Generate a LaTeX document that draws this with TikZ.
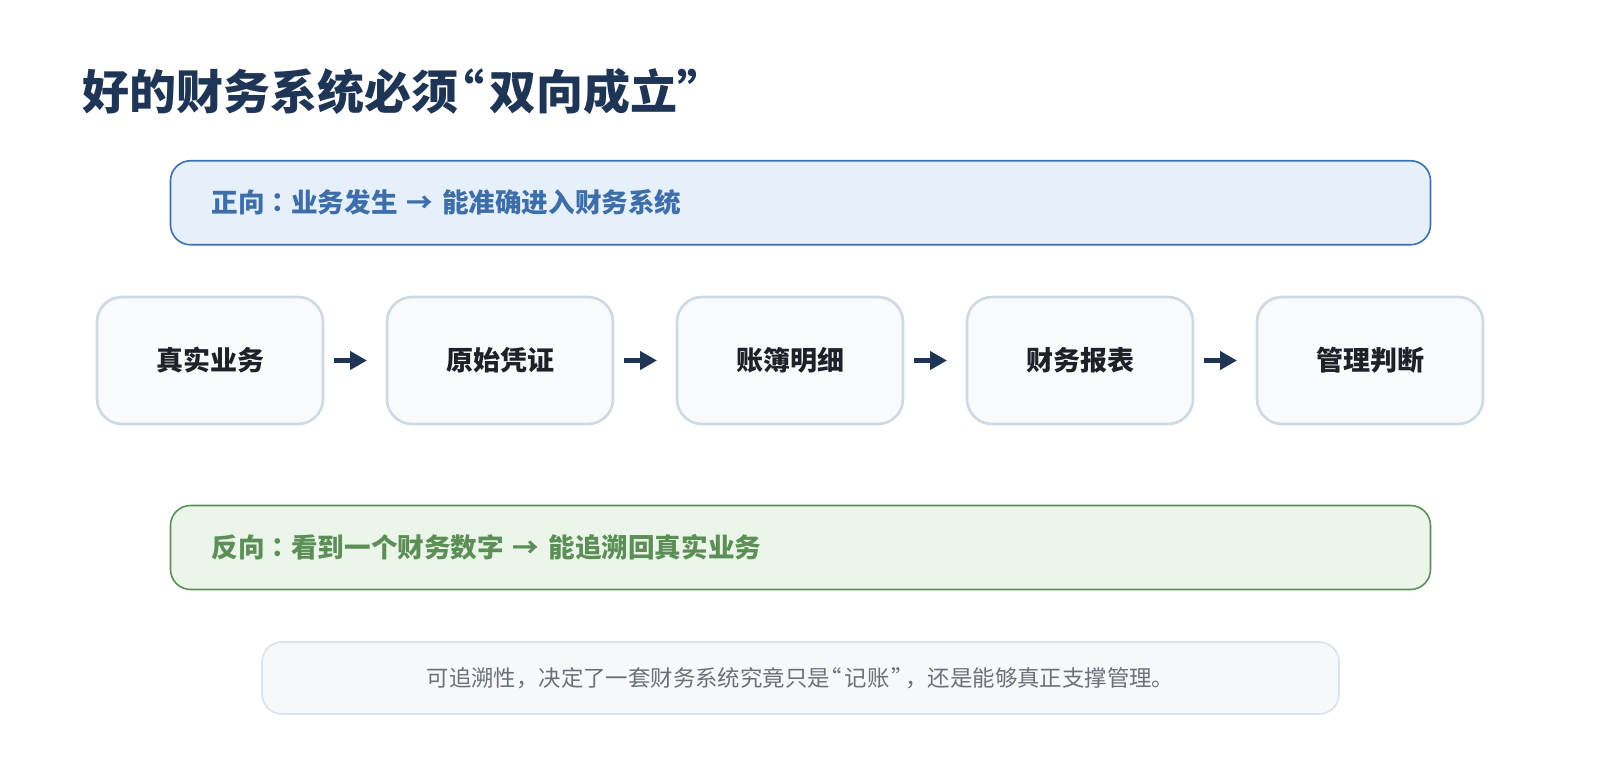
\documentclass[tikz,border=0pt]{standalone}
\usepackage{fontspec}
\setmainfont{Noto Sans CJK SC}
\newfontfamily\tcfont{Noto Sans CJK TC}
\newcommand{\mycolon}{{\tcfont ：}}
\newcommand{\myoq}{\kern-0.45em “\kern0.12em }
\newcommand{\mycq}{\kern0.08em ”\kern-0.38em }
\usetikzlibrary{arrows.meta}
\definecolor{navy}{HTML}{1F3556}
\definecolor{bluefill}{HTML}{E6F0FA}
\definecolor{blueline}{HTML}{3B6FAE}
\definecolor{bluetext}{HTML}{3D6EAA}
\definecolor{greenfill}{HTML}{ECF5EA}
\definecolor{greenline}{HTML}{5B9057}
\definecolor{greentext}{HTML}{5B8F55}
\definecolor{flowfill}{HTML}{F8FAFC}
\definecolor{flowline}{HTML}{CFD8E3}
\definecolor{flowtext}{HTML}{1E2228}
\definecolor{notefill}{HTML}{F7F8FA}
\definecolor{noteline}{HTML}{DCE2EA}
\definecolor{notetext}{HTML}{6B7079}
\tikzset{
  titletext/.style={anchor=west, inner sep=0pt, font=\fontsize{47}{50}\selectfont\bfseries, text=navy},
  bandbox/.style={rounded corners=20pt, line width=1.6pt, minimum height=84pt,
    text width=1178pt, inner xsep=41pt, inner ysep=0pt, align=left, outer sep=0pt,
    font=\fontsize{26.6}{30}\selectfont\bfseries},
  fwdbox/.style={bandbox, draw=blueline, fill=bluefill, text=bluetext},
  revbox/.style={bandbox, draw=greenline, fill=greenfill, text=greentext},
  flowbox/.style={draw=flowline, fill=flowfill, line width=2.6pt, rounded corners=25pt,
    minimum width=226pt, minimum height=127pt, inner sep=0pt, outer sep=0pt,
    text=flowtext, font=\fontsize{27}{30}\selectfont\bfseries},
  flowarrow/.style={draw=navy, line width=5.5pt, -{Triangle[length=17pt,width=18pt]},
    shorten <=11pt, shorten >=20pt},
  notebox/.style={draw=noteline, fill=notefill, line width=1.6pt, rounded corners=20pt,
    minimum width=1077pt, minimum height=72pt, inner sep=0pt, outer sep=0pt,
    text=notetext, font=\fontsize{22.4}{26}\selectfont},
}
\begin{document}
\begin{tikzpicture}[x=1pt,y=-1pt]
\useasboundingbox (0,0) rectangle (1600,760);
\fill[white] (0,0) rectangle (1600,760);
\node[titletext] (title) at (82,92) {好的财务系统必须\myoq 双向成立”};
\node[fwdbox] (fwd) at (800.5,202.75) {正向\mycolon 业务发生 → 能准确进入财务系统};
\node[flowbox] (b1) at (210,360.5) {真实业务};
\node[flowbox] (b2) at (500,360.5) {原始凭证};
\node[flowbox] (b3) at (790,360.5) {账簿明细};
\node[flowbox] (b4) at (1080,360.5) {财务报表};
\node[flowbox] (b5) at (1370,360.5) {管理判断};
\draw[flowarrow] (b1.east) -- (b2.west);
\draw[flowarrow] (b2.east) -- (b3.west);
\draw[flowarrow] (b3.east) -- (b4.west);
\draw[flowarrow] (b4.east) -- (b5.west);
\node[revbox] (rev) at (800.5,547.5) {反向\mycolon 看到一个财务数字 → 能追溯回真实业务};
\node[notebox] (note) at (800.5,678) {可追溯性，决定了一套财务系统究竟只是\myoq 记账\mycq，还是能够真正支撑管理。};
\end{tikzpicture}
\end{document}
